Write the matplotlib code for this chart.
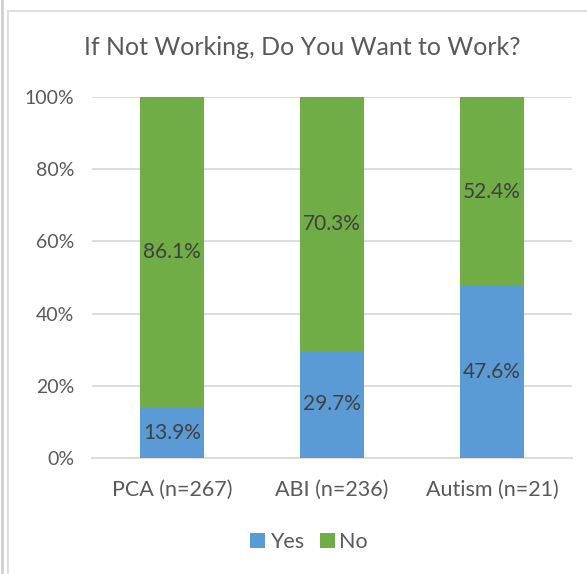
import matplotlib
matplotlib.use("Agg")
import matplotlib.pyplot as plt
from matplotlib.lines import Line2D
from matplotlib.ticker import PercentFormatter

categories = ["PCA (n=267)", "ABI (n=236)", "Autism (n=21)"]
yes_vals = [13.9, 29.7, 47.6]
no_vals = [86.1, 70.3, 52.4]
yticks = [0, 20, 40, 60, 80, 100]

W, H = 587, 574
fig = plt.figure(figsize=(W / 100, H / 100), dpi=100)
plt.rcParams['font.family'] = ['Lato', 'DejaVu Sans']

# plot area in pixels
left, right, top, bottom = 92, 572, 97, 458
ax = fig.add_axes([left / W, 1 - bottom / H, (right - left) / W, (bottom - top) / H])

blue = "#5B9BD5"
green = "#70AD47"
txt = "#595959"

x = range(len(categories))
ax.bar(x, yes_vals, width=0.4, color=blue, zorder=3, label="Yes")
ax.bar(x, no_vals, width=0.4, bottom=yes_vals, color=green, zorder=3, label="No")

for i in x:
    ax.text(i, yes_vals[i] / 2, f"{yes_vals[i]:.1f}%", ha="center", va="center",
            fontsize=15, color="#404040", zorder=4)
    ax.text(i, yes_vals[i] + no_vals[i] / 2, f"{no_vals[i]:.1f}%", ha="center", va="center",
            fontsize=15, color="#404040", zorder=4)

ax.set_xlim(-0.5, 2.5)
ax.set_ylim(0, 100)
ax.set_yticks(yticks)
ax.yaxis.set_major_formatter(PercentFormatter(decimals=0))
ax.grid(axis="y", color="#D9D9D9", linewidth=1.3, zorder=0)
for s in ["top", "right", "left"]:
    ax.spines[s].set_visible(False)
ax.spines["bottom"].set_color("#D9D9D9")
ax.spines["bottom"].set_linewidth(1.3)
ax.set_xticks(list(x))
ax.set_xticklabels(categories)
ax.tick_params(axis="both", length=0, colors=txt)
ax.tick_params(axis="x", labelsize=15.5, pad=16)
ax.tick_params(axis="y", labelsize=14, pad=13)

fig.text(302.5 / W, 1 - 47.5 / H, "If Not Working, Do You Want to Work?", ha="center", va="center",
         fontsize=18, color=txt)

handles, labels = ax.get_legend_handles_labels()
fig.legend(handles, labels, loc="center", bbox_to_anchor=(309 / W, 1 - 542 / H), ncol=2,
           frameon=False, fontsize=15.5, labelcolor=txt, handlelength=0.7, handleheight=0.7,
           handletextpad=0.2, columnspacing=0.75)

# chart border
fig.add_artist(Line2D([7.5 / W, 7.5 / W], [0, 1 - 11 / H], color="#D9D9D9", linewidth=1.2))
fig.add_artist(Line2D([7.5 / W, 1], [1 - 11 / H, 1 - 11 / H], color="#D9D9D9", linewidth=1.2))
fig.add_artist(Line2D([1.5 / W, 1.5 / W], [0, 1], color="#D0D0D0", linewidth=2))

fig.savefig("out.png", dpi=100)
